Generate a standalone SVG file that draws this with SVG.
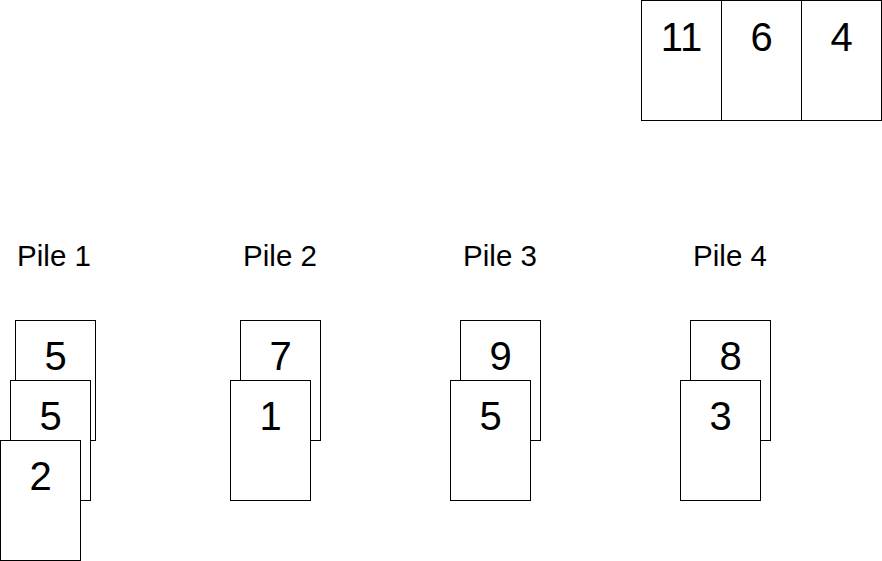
<svg xmlns="http://www.w3.org/2000/svg" width="882" height="561" viewBox="0 0 882 561">
<style>
.card{fill:#fff;stroke:#000;stroke-width:1}
.num{font-family:"Liberation Sans",Arial,sans-serif;font-size:40px;text-anchor:middle;fill:#000}
.lbl{font-family:"Liberation Sans",Arial,sans-serif;font-size:29.5px;text-anchor:middle;fill:#000}
</style>
<rect width="882" height="561" fill="#fff"/>
<g id="top-11"><rect class="card" x="641.5" y="0.5" width="80" height="120"/><text class="num" x="681.5" y="51">11</text></g>
<g id="top-6"><rect class="card" x="721.5" y="0.5" width="80" height="120"/><text class="num" x="761.5" y="51">6</text></g>
<g id="top-4"><rect class="card" x="801.5" y="0.5" width="80" height="120"/><text class="num" x="841.5" y="51">4</text></g>

<g id="pile1-label"><text class="lbl" x="54" y="266">Pile 1</text></g>
<g id="pile2-label"><text class="lbl" x="280" y="266">Pile 2</text></g>
<g id="pile3-label"><text class="lbl" x="500" y="266">Pile 3</text></g>
<g id="pile4-label"><text class="lbl" x="730" y="266">Pile 4</text></g>

<g id="p1-card5a"><rect class="card" x="15.5" y="320.5" width="80" height="120"/><text class="num" x="55.5" y="370">5</text></g>
<g id="p1-card5b"><rect class="card" x="10.5" y="380.5" width="80" height="120"/><text class="num" x="50.5" y="430">5</text></g>
<g id="p1-card2"><rect class="card" x="0.5" y="440.5" width="80" height="120"/><text class="num" x="40.5" y="490">2</text></g>

<g id="p2-card7"><rect class="card" x="240.5" y="320.5" width="80" height="120"/><text class="num" x="280.5" y="370">7</text></g>
<g id="p2-card1"><rect class="card" x="230.5" y="380.5" width="80" height="120"/><text class="num" x="270.5" y="430">1</text></g>

<g id="p3-card9"><rect class="card" x="460.5" y="320.5" width="80" height="120"/><text class="num" x="500.5" y="370">9</text></g>
<g id="p3-card5"><rect class="card" x="450.5" y="380.5" width="80" height="120"/><text class="num" x="490.5" y="430">5</text></g>

<g id="p4-card8"><rect class="card" x="690.5" y="320.5" width="80" height="120"/><text class="num" x="730.5" y="370">8</text></g>
<g id="p4-card3"><rect class="card" x="680.5" y="380.5" width="80" height="120"/><text class="num" x="720.5" y="430">3</text></g>

<g id="connectors"/>
</svg>
